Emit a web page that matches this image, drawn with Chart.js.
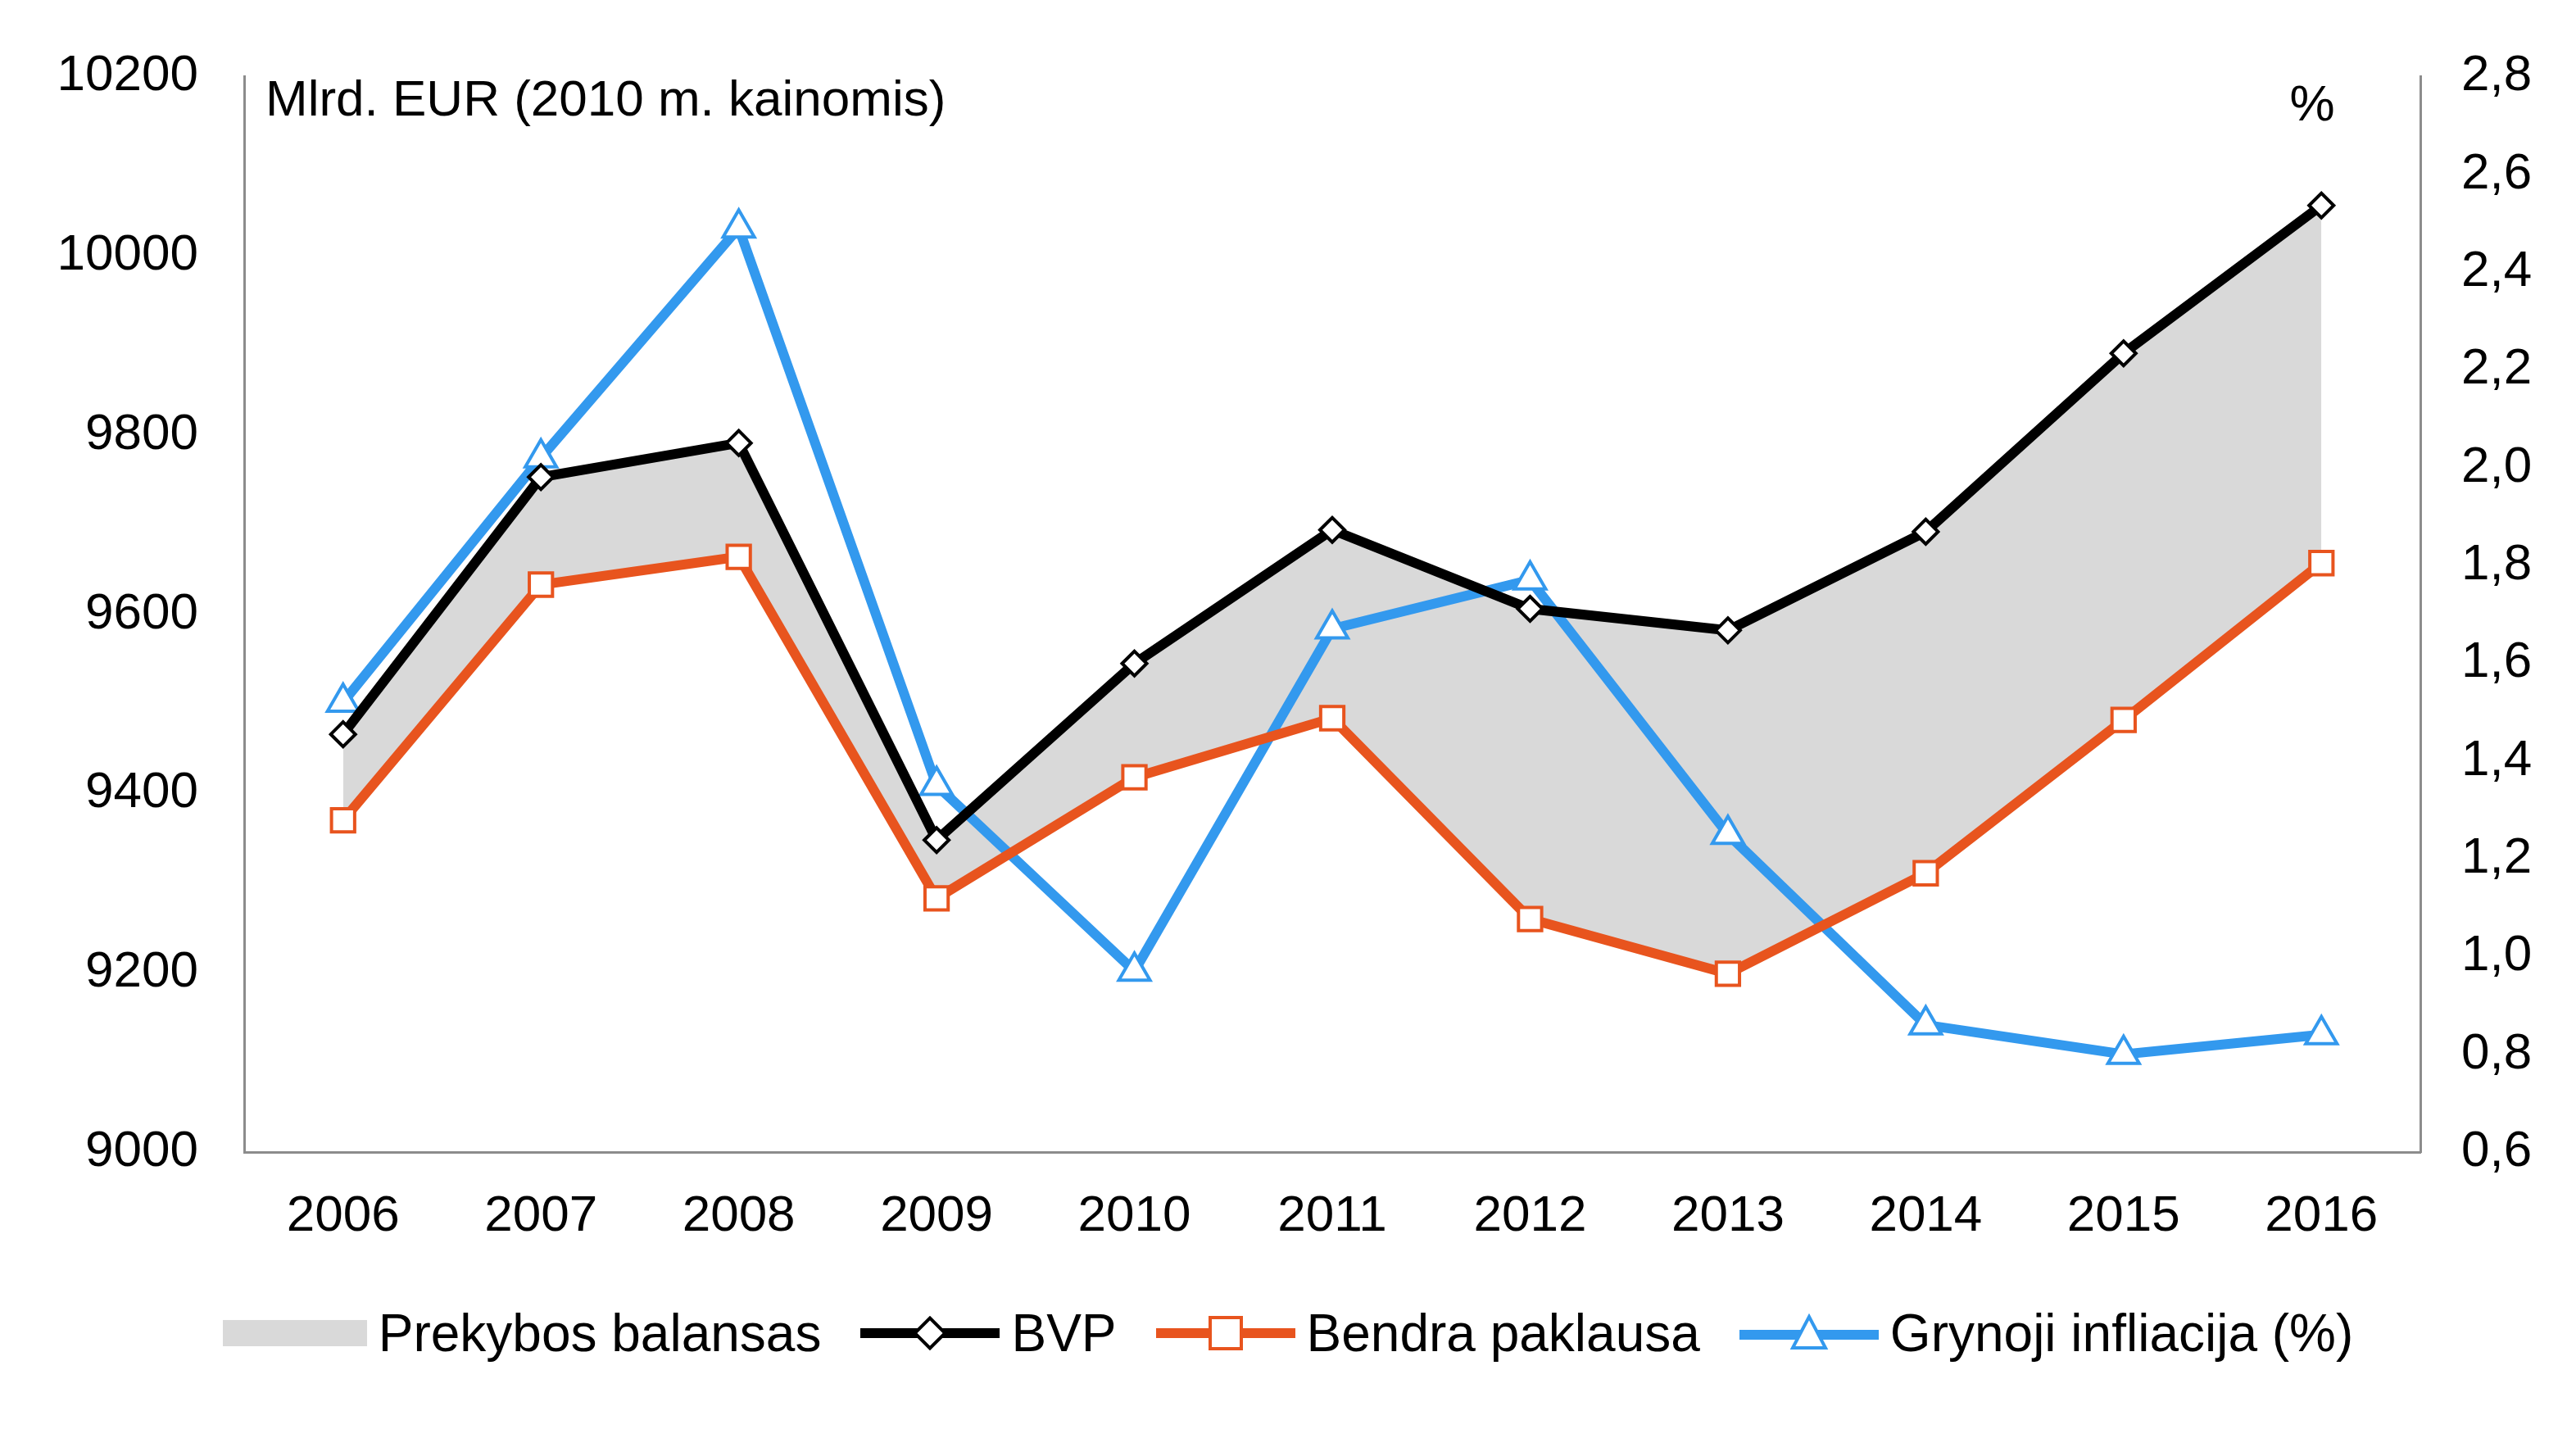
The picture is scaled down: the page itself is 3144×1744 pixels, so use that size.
<!DOCTYPE html>
<html><head><meta charset="utf-8">
<script src="https://cdn.jsdelivr.net/npm/chart.js@4"></script>
<style>
html,body{margin:0;padding:0;background:#fff;}
#wrap{position:relative;width:3144px;height:1744px;}
#legend{position:absolute;left:0;top:1590px;width:3144px;display:flex;justify-content:center;align-items:center;font-family:Arial,"Liberation Sans",sans-serif;font-size:64px;color:#000;}
#legend .it{display:flex;align-items:center;margin:0 24px;}
#legend svg{margin-right:14px;}
</style></head>
<body>
<div id="wrap">
<canvas id="c" width="3144" height="1744"></canvas>
<div id="legend">
  <div class="it"><svg width="176" height="40"><rect x="0" y="4" width="176" height="32" fill="#d9d9d9"/></svg>Prekybos balansas</div>
  <div class="it"><svg width="170" height="44"><line x1="0" y1="22" x2="170" y2="22" stroke="#000" stroke-width="12"/><rect x="72" y="9" width="26" height="26" transform="rotate(45 85 22)" fill="#fff" stroke="#000" stroke-width="4"/></svg>BVP</div>
  <div class="it"><svg width="170" height="44"><line x1="0" y1="22" x2="170" y2="22" stroke="#e8541e" stroke-width="12"/><rect x="66" y="3" width="38" height="38" fill="#fff" stroke="#e8541e" stroke-width="4"/></svg>Bendra paklausa</div>
  <div class="it"><svg width="170" height="48"><line x1="0" y1="26" x2="170" y2="26" stroke="#3399ee" stroke-width="12"/><polygon points="85,4 105,42 65,42" fill="#fff" stroke="#3399ee" stroke-width="4"/></svg>Grynoji infliacija (%)</div>
</div>
</div>
<script>
const years = ['2006','2007','2008','2009','2010','2011','2012','2013','2014','2015','2016'];
const bvp = [9466, 9753, 9791, 9348, 9545, 9694, 9606, 9582, 9692, 9891, 10056];
const bendraPaklausa = [9370, 9633, 9664, 9283, 9418, 9484, 9260, 9199, 9311, 9482, 9657];
const infliacija = [1.52, 2.02, 2.49, 1.35, 0.97, 1.67, 1.77, 1.25, 0.86, 0.80, 0.84];

const font = "Arial, 'Liberation Sans', sans-serif";

// antraštės grafiko viduje
const titles = {
    id: 'titles',
    afterDraw(chart) {
        const ctx = chart.ctx, a = chart.chartArea;
        ctx.save();
        ctx.fillStyle = '#000';
        ctx.font = '62px ' + font;
        ctx.textBaseline = 'middle';
        ctx.textAlign = 'left';
        ctx.fillText('Mlrd. EUR (2010 m. kainomis)', a.left + 26, 124);
        ctx.textAlign = 'center';
        ctx.fillText('%', 2822, 130);
        ctx.restore();
    }
};

new Chart(document.getElementById('c'), {
    type: 'line',
    data: {
        labels: years,
        datasets: [
            { label: 'Prekybos balansas', data: bvp, yAxisID: 'y', borderWidth: 0, pointRadius: 0,
              backgroundColor: '#d9d9d9', fill: 2, order: 5 },
            { label: 'Grynoji infliacija (%)', data: infliacija, yAxisID: 'y2', borderColor: '#3399ee', borderWidth: 12,
              pointStyle: 'triangle', pointRadius: 22, pointBorderWidth: 4, pointBackgroundColor: '#fff',
              pointBorderColor: '#3399ee', fill: false, tension: 0, order: 3 },
            { label: 'Bendra paklausa', data: bendraPaklausa, yAxisID: 'y', borderColor: '#e8541e', borderWidth: 12,
              pointStyle: 'rect', pointRadius: 20, pointBorderWidth: 4, pointBackgroundColor: '#fff',
              pointBorderColor: '#e8541e', fill: false, tension: 0, order: 2 },
            { label: 'BVP', data: bvp, yAxisID: 'y', borderColor: '#000', borderWidth: 12,
              pointStyle: 'rectRot', pointRadius: 15, pointBorderWidth: 4, pointBackgroundColor: '#fff',
              pointBorderColor: '#000', fill: false, tension: 0, order: 1 }
        ]
    },
    options: {
        responsive: false,
        animation: false,
        layout: { padding: { top: 93, bottom: 188, left: 0, right: 0 } },
        plugins: { legend: { display: false }, tooltip: { enabled: false } },
        scales: {
            x: {
                offset: true,
                grid: { display: false, drawTicks: false },
                border: { color: '#8c8c8c', width: 3 },
                ticks: { color: '#000', font: { size: 62, family: font }, padding: 42 },
                afterFit(s) { s.height = 150; }
            },
            y: {
                position: 'left', min: 9000, max: 10200,
                grid: { display: false, drawTicks: false },
                border: { color: '#8c8c8c', width: 3 },
                ticks: { stepSize: 200, color: '#000', font: { size: 62, family: font }, padding: 56,
                    callback: v => String(v) },
                afterFit(s) { s.width = 298; }
            },
            y2: {
                position: 'right', min: 0.6, max: 2.8,
                grid: { display: false, drawTicks: false },
                border: { color: '#8c8c8c', width: 3 },
                ticks: { stepSize: 0.2, color: '#000', font: { size: 62, family: font }, padding: 50,
                    callback: v => v.toFixed(1).replace('.', ',') },
                afterFit(s) { s.width = 190; }
            }
        }
    },
    plugins: [titles]
});
</script>
</body></html>
